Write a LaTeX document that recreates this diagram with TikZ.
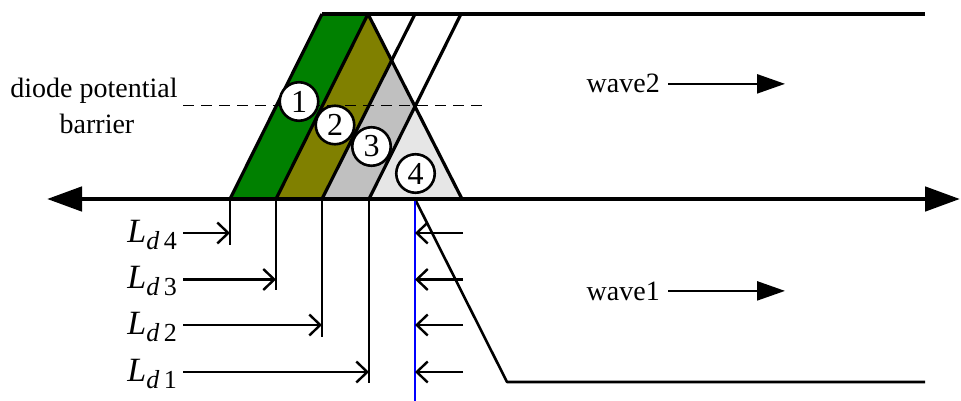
\documentclass[tikz,border=0pt]{standalone}
\usepackage{fontspec}
\setmainfont{Liberation Serif}
\usetikzlibrary{arrows.meta}
\definecolor{bandgreen}{RGB}{0,128,0}
\definecolor{bandolive}{RGB}{128,128,0}
\definecolor{bandgrey}{RGB}{192,192,192}
\definecolor{bandlight}{RGB}{230,230,230}
\begin{document}
\begin{tikzpicture}[x=1pt,y=-1pt,
  outline/.style={line width=3.2pt,line join=round},
  axisline/.style={line width=4.8pt,{Triangle[length=35pt,width=24pt]}-{Triangle[length=35pt,width=24pt]}},
  wavearrow/.style={line width=2.4pt,-{Triangle[length=28pt,width=19pt]}},
  distarrow/.style={line width=2.4pt,-{Straight Barb[length=11pt,width=21pt,line width=2.4pt]}},
  tick/.style={line width=2pt},
  numcircle/.style={circle,draw,fill=white,line width=2.6pt,minimum size=38.5pt,inner sep=0pt,font=\fontsize{32}{34}\selectfont},
  txt/.style={inner sep=0pt,font=\fontsize{28}{30}\selectfont},
  ldlabel/.style={inner sep=0pt,anchor=base east}]
\useasboundingbox (0,0) rectangle (961,401);
% corner coordinates
\coordinate (t1) at (322,14);
\coordinate (t2) at (368,14);
\coordinate (t3) at (415,14);
\coordinate (t4) at (461,14);
\coordinate (b1) at (230,199);
\coordinate (b2) at (276,199);
\coordinate (b3) at (322,199);
\coordinate (b4) at (369,199);
\coordinate (b5) at (462,199);
\coordinate (p) at (391.6,60.5);
\coordinate (q) at (415,106.5);
% coloured bands
\fill[bandgreen] (t1) -- (t2) -- (b2) -- (b1) -- cycle;
\fill[bandolive] (t2) -- (p) -- (b3) -- (b2) -- cycle;
\fill[bandgrey] (p) -- (q) -- (b4) -- (b3) -- cycle;
\fill[bandlight] (q) -- (b5) -- (b4) -- cycle;
% outlines
\draw[outline] (t1) -- (b1);
\draw[outline] (t2) -- (b2);
\draw[outline] (t3) -- (b3);
\draw[outline] (t4) -- (b4);
\draw[outline] (t2) -- (b5);
\coordinate (topend) at (925,14);
\draw[outline] (t1) -- (topend);
% wave1 shape and blue line
\coordinate (w1a) at (415,199);
\coordinate (w1b) at (507,382);
\coordinate (w1c) at (925,382);
\draw[line width=2.6pt,line join=round] (w1a) -- (w1b) -- (w1c);
\coordinate (blueend) at (415,401);
\draw[blue,line width=1.5pt] (w1a) -- (blueend);
% main axis
\coordinate (axl) at (47,199);
\coordinate (axr) at (960,199);
\draw[axisline] (axl) -- (axr);
% dashed barrier
\coordinate (dl) at (183,105.5);
\coordinate (dr) at (486,105.5);
\draw[line width=1.8pt,dash pattern=on 11pt off 7pt] (dl) -- (dr);
% circles
\node[numcircle] (c1) at (299,101.5) {1};
\node[numcircle] (c2) at (335,125) {2};
\node[numcircle] (c3) at (371.5,146.5) {3};
\node[numcircle] (c4) at (415.5,173.5) {4};
% barrier label
\node[txt,anchor=base] (dp1) at (94,98) {diode potential};
\node[txt,anchor=base] (dp2) at (97,134) {barrier};
% waves
\node[txt,anchor=base east] (wave2) at (660,93) {wave2};
\draw[wavearrow] ([xshift=8pt]wave2.east) -- ++(117,0);
\node[txt,anchor=base east] (wave1) at (660,300) {wave1};
\draw[wavearrow] ([xshift=8pt]wave1.east) -- ++(117,0);
% vertical ticks
\draw[tick] (b1) -- ++(0,46);
\draw[tick] (b2) -- ++(0,91);
\draw[tick] (b3) -- ++(0,138);
\draw[tick] (b4) -- ++(0,184);
% distance labels
\newcommand{\ldlab}[1]{\fontsize{34}{36}\selectfont\textit{L}\raisebox{-7pt}{\fontsize{26}{28}\selectfont\textit{d}\,#1}}
\node[ldlabel] (ld4) at (177,242) {\ldlab{4}};
\node[ldlabel] (ld3) at (177,288.5) {\ldlab{3}};
\node[ldlabel] (ld2) at (177,334) {\ldlab{2}};
\node[ldlabel] (ld1) at (177,381) {\ldlab{1}};
\coordinate (s4) at (183,233);
\coordinate (s3) at (183,279.5);
\coordinate (s2) at (183,325);
\coordinate (s1) at (183,372);
\draw[distarrow] (s4) -- (s4 -| b1);
\draw[distarrow] (s3) -- (s3 -| b2);
\draw[distarrow] (s2) -- (s2 -| b3);
\draw[distarrow] (s1) -- (s1 -| b4);
% right-side arrows
\coordinate (r4) at (463,233);
\coordinate (r3) at (463,279.5);
\coordinate (r2) at (463,325);
\coordinate (r1) at (463,372);
\draw[distarrow] (r4) -- (r4 -| w1a);
\draw[distarrow] (r3) -- (r3 -| w1a);
\draw[distarrow] (r2) -- (r2 -| w1a);
\draw[distarrow] (r1) -- (r1 -| w1a);
\end{tikzpicture}
\end{document}
